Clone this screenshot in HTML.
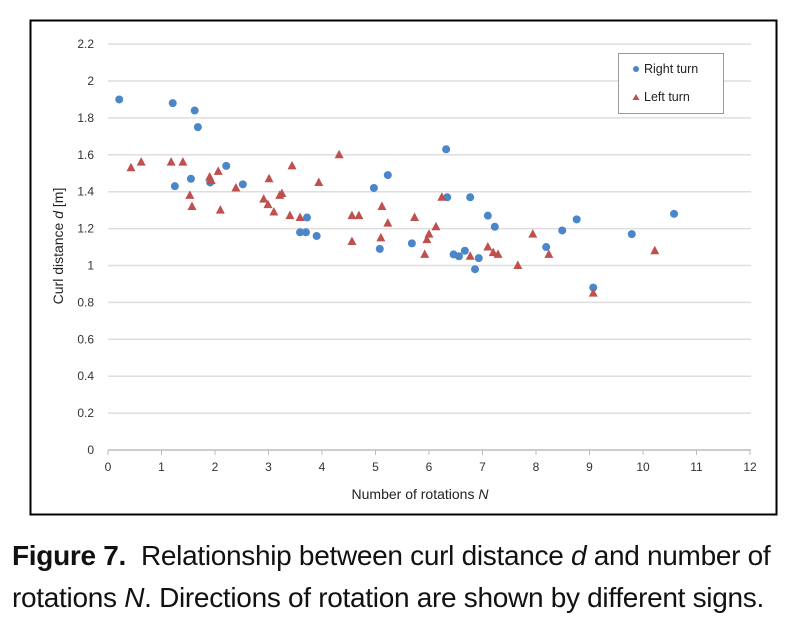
<!DOCTYPE html>
<html><head><meta charset="utf-8"><style>
body{margin:0;background:#fff;width:802px;height:637px;overflow:hidden;font-family:"Liberation Sans",sans-serif}
#cap{position:absolute;left:12px;top:535px;font-size:28px;line-height:42px;color:#111;letter-spacing:-0.3px;white-space:nowrap}
</style></head><body>
<svg id="chart" width="802" height="530" style="position:absolute;left:0;top:0" font-family="Liberation Sans, sans-serif">
<rect x="30.5" y="20.5" width="746" height="494" fill="#fff" stroke="#000" stroke-width="2"/>
<g id="grid"></g><g id="axes"></g><g id="marks"></g>
<g>
<rect x="618.5" y="53.5" width="105" height="60" fill="#fff" stroke="#999"/>
<circle cx="636" cy="69" r="3" fill="#4a86c8"/>
<text x="644" y="73" font-size="12.5" fill="#222">Right  turn</text>
<polygon points="636,94 632.5,100 639.5,100" fill="#c0504d"/>
<text x="644" y="101" font-size="12.5" fill="#222">Left  turn</text>
</g>
<text x="420" y="499" font-size="14" text-anchor="middle" fill="#222">Number  of  rotations   <tspan font-style="italic">N</tspan></text>
<text transform="translate(63,246) rotate(-90)" font-size="14" text-anchor="middle" fill="#222">Curl  distance <tspan font-style="italic">d</tspan>  [m]</text>
</svg>
<div id="cap"><b>Figure 7.</b>&nbsp; Relationship between curl distance <i>d</i> and number of<br>rotations <i>N</i>. Directions of rotation are shown by different signs.</div>
<script>
const xTicks=[0,1,2,3,4,5,6,7,8,9,10,11,12];
const yTicks=[0,0.2,0.4,0.6,0.8,1,1.2,1.4,1.6,1.8,2,2.2];
const yTickLabels=["0","0.2","0.4","0.6","0.8","1","1.2","1.4","1.6","1.8","2","2.2"];
const rightN=[0.21,1.21,1.62,1.68,1.25,1.55,1.91,2.21,2.52,3.72,3.59,3.70,3.90,4.97,5.23,5.08,5.68,6.32,6.34,6.77,7.10,7.23,6.46,6.56,6.67,6.86,6.93,8.19,8.49,8.76,9.07,9.79,10.58];
const rightD=[1.90,1.88,1.84,1.75,1.43,1.47,1.45,1.54,1.44,1.26,1.18,1.18,1.16,1.42,1.49,1.09,1.12,1.63,1.37,1.37,1.27,1.21,1.06,1.05,1.08,0.98,1.04,1.10,1.19,1.25,0.88,1.17,1.28];
const leftN=[0.43,0.62,1.18,1.40,1.53,1.57,1.93,2.06,1.90,2.10,2.39,2.91,2.99,3.10,3.25,3.21,3.01,3.40,3.59,3.44,3.94,4.32,4.56,4.69,4.56,5.12,5.23,5.10,5.73,5.92,5.96,6.00,6.13,6.24,6.77,7.10,7.20,7.29,7.66,7.94,8.24,9.07,10.22];
const leftD=[1.53,1.56,1.56,1.56,1.38,1.32,1.46,1.51,1.48,1.30,1.42,1.36,1.33,1.29,1.39,1.38,1.47,1.27,1.26,1.54,1.45,1.60,1.27,1.27,1.13,1.32,1.23,1.15,1.26,1.06,1.14,1.17,1.21,1.37,1.05,1.10,1.07,1.06,1.00,1.17,1.06,0.85,1.08];
const X=v=>108+v*53.5, Y=v=>450-v*184.5;
const ns="http://www.w3.org/2000/svg";
function mk(t,a,p){const e=document.createElementNS(ns,t);for(const k in a)e.setAttribute(k,a[k]);p.appendChild(e);return e;}
const g=document.getElementById('grid'),ax=document.getElementById('axes'),m=document.getElementById('marks');
yTicks.forEach((v,i)=>{
 const l=mk('line',{x1:108,x2:751,y1:Y(v),y2:Y(v),stroke:i==0?'#bbb':'#dedede','stroke-width':1.5},g);
 
 
 const t=mk('text',{x:94,y:Y(v)+4,'font-size':12,'text-anchor':'end',fill:'#333'},ax);t.textContent=yTickLabels[i];
 
 
});
xTicks.forEach(v=>{
 const l=mk('line',{x1:X(v),x2:X(v),y1:450,y2:455,stroke:'#bbb'},ax);
 
 
 const t=mk('text',{x:X(v),y:471,'font-size':12,'text-anchor':'middle',fill:'#333'},ax);t.textContent=v;
 
 
});
rightN.forEach((n,i)=>{
 const c=mk('circle',{cx:X(n),cy:Y(rightD[i]),r:4,fill:'#4a86c8'},m);
 
 
});
leftN.forEach((n,i)=>{
 const x=X(n),y=Y(leftD[i]);
 const p=mk('polygon',{points:`${x},${y-5} ${x-4.5},${y+3.5} ${x+4.5},${y+3.5}`,fill:'#c0504d'},m);
 
 
});
</script>
</body></html>
